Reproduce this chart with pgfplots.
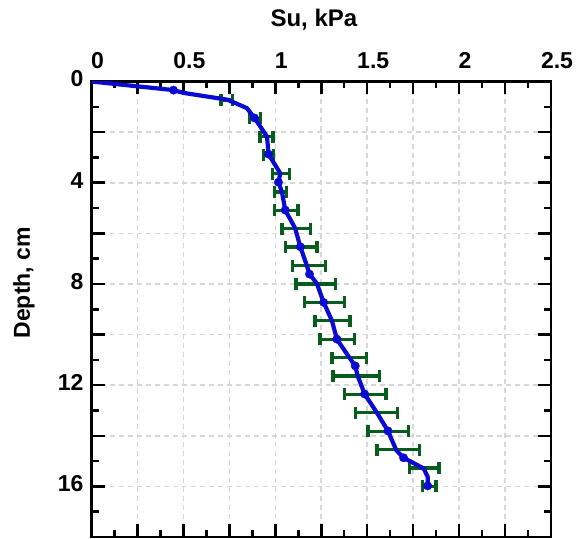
\documentclass[border=0pt]{standalone}
\usepackage{pgfplots}
\pgfplotsset{compat=1.18}
\usepackage{pgfplotstable}
\usepackage{fontspec}
\setmainfont{Liberation Sans}
\definecolor{lineblue}{RGB}{10,10,210}
\definecolor{errgreen}{RGB}{8,92,28}
\definecolor{gridgray}{RGB}{215,215,215}

\pgfplotstableread{
x y e
0.737 0.727 0.032
0.889 1.455 0.029
0.952 2.182 0.036
0.962 2.909 0.028
1.030 3.636 0.046
1.028 4.364 0.032
1.060 5.091 0.064
1.113 5.818 0.077
1.142 6.545 0.085
1.182 7.273 0.090
1.219 8.000 0.107
1.266 8.727 0.109
1.311 9.455 0.095
1.336 10.182 0.093
1.403 10.909 0.094
1.440 11.636 0.126
1.490 12.364 0.113
1.551 13.091 0.114
1.614 13.818 0.110
1.668 14.545 0.115
1.810 15.273 0.081
1.838 16.000 0.037
}\errdata

\pgfplotstableread{
x y
0.000 0.00
0.446 0.34
0.500 0.45
0.740 0.72
0.845 1.05
0.887 1.44
0.955 2.18
0.963 2.87
1.027 3.63
1.017 3.98
1.036 4.36
1.054 5.08
1.108 5.80
1.136 6.53
1.172 7.28
1.186 7.61
1.226 7.98
1.263 8.73
1.308 9.45
1.335 10.18
1.402 10.90
1.435 11.24
1.448 11.63
1.486 12.35
1.553 13.09
1.613 13.81
1.658 14.57
1.698 14.87
1.807 15.29
1.829 15.62
1.829 15.98
}\linedata

\pgfplotstableread{
x y
0.446 0.34
0.887 1.44
0.963 2.87
1.017 3.98
1.054 5.08
1.136 6.53
1.186 7.61
1.263 8.73
1.335 10.18
1.435 11.24
1.486 12.35
1.613 13.81
1.698 14.87
1.829 15.98
}\markdata

\begin{document}
\begin{tikzpicture}
\begin{axis}[
  scale only axis, width=459.5pt, height=455.5pt,
  xmin=0, xmax=2.5, ymin=0, ymax=18, y dir=reverse,
  axis line style={line width=2.8pt},
  xtick={0,0.25,0.5,0.75,1,1.25,1.5,1.75,2,2.25,2.5},
  xticklabels={0,,0.5,,1,,1.5,,2,,2.5},
  ytick={0,2,4,6,8,10,12,14,16,18},
  yticklabels={0,,4,,8,,12,,16,},
  minor x tick num=1, minor y tick num=1,
  xtick pos=both, ytick pos=both,
  xticklabel pos=upper, yticklabel pos=left,
  tick align=inside,
  major tick length=13pt, minor tick length=7pt,
  tick style={line width=2.5pt, black},
  grid=major,
  major grid style={gridgray, dash pattern=on 5pt off 4pt, line width=1.6pt},
  tick label style={font=\fontsize{23}{23}\selectfont\bfseries},
  xticklabel style={yshift=9.5pt, xshift=6pt},
  yticklabel style={xshift=-4.5pt, yshift=2.5pt},
  xlabel={Su, kPa},
  xlabel style={at={(axis description cs:0.484,1.12)}, anchor=base, font=\fontsize{24}{24}\selectfont\bfseries},
  ylabel={Depth, cm},
  ylabel style={at={(axis description cs:-0.147,0.558)}, anchor=center, font=\fontsize{23}{23}\selectfont\bfseries},
]
\addplot[draw=none, mark=none, forget plot,
  error bars/.cd, x dir=both, x explicit, error mark=|,
  error bar style={draw=errgreen, line width=3.3pt, solid},
  error mark options={draw=errgreen, line width=3.3pt, mark size=6pt}]
  table[x=x, y=y, x error=e] {\errdata};
\addplot[lineblue, line width=4.2pt, line join=round, line cap=round, mark=none] table[x=x, y=y] {\linedata};
\addplot[only marks, mark=*, mark size=4.2pt, color=lineblue, mark options={fill=lineblue, draw=lineblue}] table[x=x, y=y] {\markdata};
\end{axis}
\pgfresetboundingbox
\path[use as bounding box] ([shift={(-91.5pt,-2pt)}]current axis.south west) rectangle ([shift={(34pt,81.5pt)}]current axis.north east);
\end{tikzpicture}
\end{document}
